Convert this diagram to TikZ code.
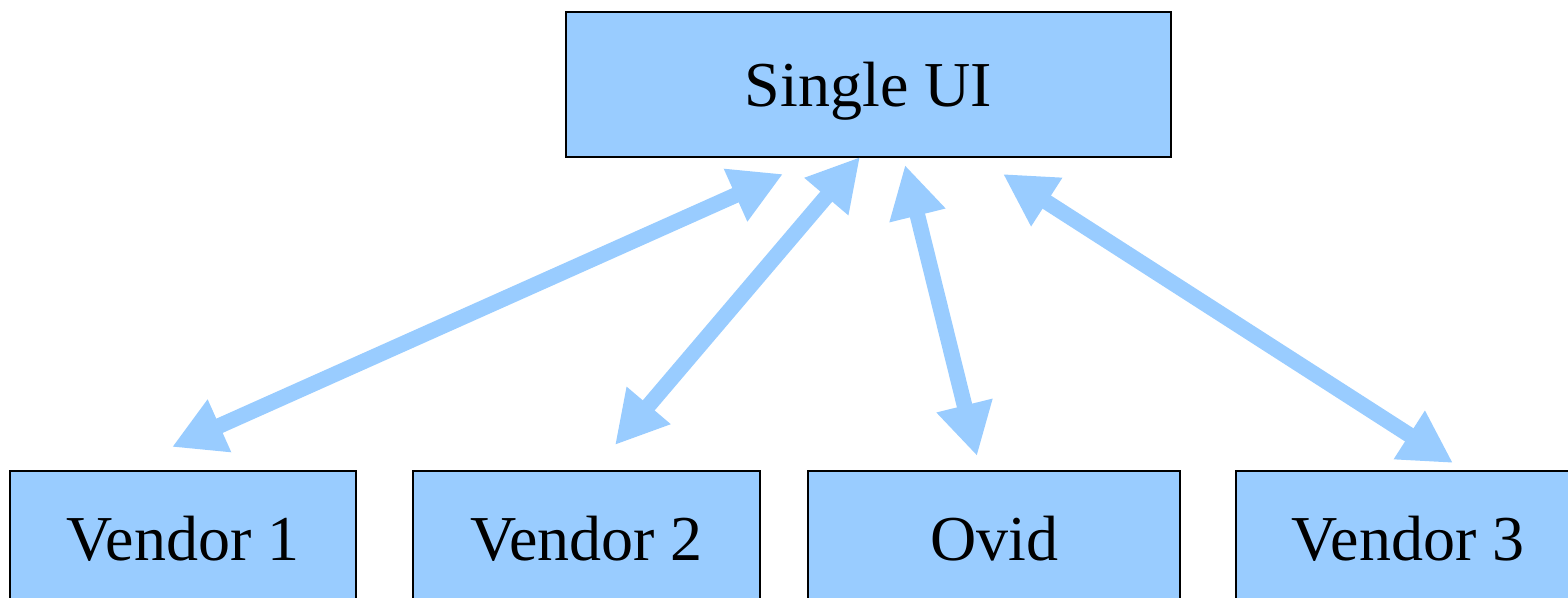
\documentclass[tikz,border=0pt]{standalone}
\usepackage{fontspec}
\setmainfont{Liberation Serif}
\usetikzlibrary{arrows.meta,positioning}
\definecolor{uiblue}{HTML}{99CCFF}

\begin{document}
\begin{tikzpicture}[x=0.5pt, y=-0.5pt,
    box/.style={draw, line width=0.8pt, fill=uiblue, minimum height=72.5pt,
                inner sep=0pt, outer sep=0pt, align=center,
                text height=22pt, text depth=5pt,
                font=\fontsize{32}{38}\selectfont},
    link/.style={{Triangle[length=26pt,width=27pt]}-{Triangle[length=26pt,width=27pt]},
                 line width=7.8pt, draw=uiblue},
]
\useasboundingbox (0,0) rectangle (1568,598);
\clip (0,0) rectangle (1568,598);

% Top box
\node[box, minimum width=302.5pt, text height=25pt, text depth=3pt] (single) at (868.5,84.5) {Single UI};

% Sources
\node[box, minimum width=173pt] (vend1) at (183,543.5) {Vendor 1};
\node[box, minimum width=173.5pt] (vend2) at (586.5,543.5) {Vendor 2};
\node[box, minimum width=186pt] (ovid) at (994,543.5) {Ovid};
\node[box, minimum width=172pt] (vend3) at (1408,543.5) {Vendor 3};

% Arrow ends
\coordinate (v1top) at (783,174);
\coordinate (v1bot) at (172,447);
\coordinate (v2top) at (860,157);
\coordinate (v2bot) at (615,445);
\coordinate (ovtop) at (905,165);
\coordinate (ovbot) at (977,456);
\coordinate (v3top) at (1003,174);
\coordinate (v3bot) at (1453,463);

% Links
\draw[link] (v1bot) -- (v1top);
\draw[link] (v2bot) -- (v2top);
\draw[link] (ovbot) -- (ovtop);
\draw[link] (v3bot) -- (v3top);
\end{tikzpicture}
\end{document}
